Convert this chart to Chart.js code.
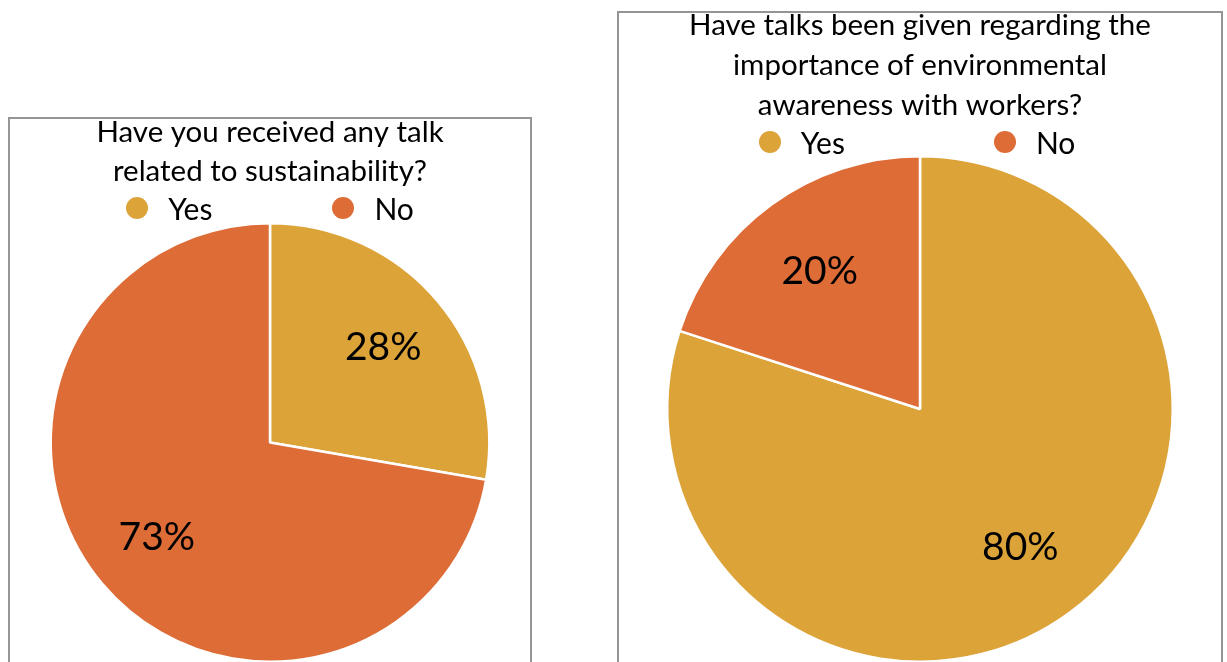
<!DOCTYPE html>
<html>
<head>
<meta charset="utf-8">
<script src="https://cdn.jsdelivr.net/npm/chart.js@4.4.1/dist/chart.umd.min.js"></script>
<style>
  html, body { margin: 0; padding: 0; background: #fff; overflow: hidden; width: 1227px; height: 662px; }
  .frame { position: absolute; box-sizing: border-box; border: 2px solid #959595; background: #fff; }
  .wrap { position: absolute; }
  .legend { position: absolute; display: flex; justify-content: center; font-family: Lato, "Open Sans", sans-serif; font-size: 30px; line-height: 36px; color: #000; white-space: nowrap; }
  .legend .item { display: flex; align-items: center; }
  .legend .dot { width: 22px; height: 22px; border-radius: 50%; margin-right: 20px; }
</style>
</head>
<body>
<div class="frame" style="left:8px; top:117px; width:524px; height:600px;"></div>
<div class="frame" style="left:617px; top:11px; width:606px; height:700px;"></div>

<div class="wrap" style="left:10px; top:100px;"><canvas id="c1" width="520" height="580"></canvas></div>
<div class="wrap" style="left:619px; top:0px;"><canvas id="c2" width="602" height="680"></canvas></div>

<div class="legend" id="lg1" style="left:10px; top:190px; width:520px;"></div>
<div class="legend" id="lg2" style="left:619px; top:124px; width:596px;"></div>

<script>
// Survey answers (percent of respondents)
const categories = ['Yes', 'No'];
const sustainabilityTalk = [28, 73];
const awarenessTalks = [80, 20];

const titleSustainability = ['Have you received any talk', 'related to sustainability?'];
const titleAwareness = ['Have talks been given regarding the', 'importance of environmental', 'awareness with workers?'];

const sliceColors = ['#DCA339', '#DD6C37'];
const FONT = 'Lato, "Open Sans", sans-serif';

// Writes each slice's percentage inside the slice, along its middle angle
const percentLabels = {
  id: 'percentLabels',
  afterDatasetsDraw(chart) {
    const { ctx } = chart;
    const meta = chart.getDatasetMeta(0);
    const values = chart.data.datasets[0].data;
    ctx.save();
    ctx.font = '39px ' + FONT;
    ctx.fillStyle = '#000';
    ctx.textAlign = 'center';
    ctx.textBaseline = 'middle';
    meta.data.forEach((arc, i) => {
      const p = arc.getProps(['x', 'y', 'startAngle', 'endAngle', 'outerRadius'], true);
      const mid = (p.startAngle + p.endAngle) / 2;
      const r = p.outerRadius * 0.675;
      ctx.fillText(values[i] + '%', p.x + Math.cos(mid) * r, p.y + Math.sin(mid) * r);
    });
    ctx.restore();
  }
};

function makePie(canvasId, legendId, values, title, titleLine, titlePad, legendGap) {
  const chart = new Chart(document.getElementById(canvasId), {
    type: 'pie',
    data: {
      labels: categories,
      datasets: [{
        data: values,
        backgroundColor: sliceColors,
        borderColor: '#ffffff',
        borderWidth: 2.5,
        hoverOffset: 0
      }]
    },
    options: {
      responsive: false,
      animation: false,
      layout: { padding: { bottom: 17 } },
      plugins: {
        legend: { display: false },
        tooltip: { enabled: false },
        title: {
          display: true,
          text: title,
          color: '#000',
          font: { family: FONT, size: 29.5, weight: 'normal', lineHeight: titleLine },
          padding: titlePad
        }
      }
    },
    plugins: [percentLabels]
  });

  // Legend built from the chart's own legend items
  const box = document.getElementById(legendId);
  const items = chart.options.plugins.legend.labels.generateLabels(chart);
  items.forEach((it, i) => {
    const el = document.createElement('div');
    el.className = 'item';
    if (i > 0) el.style.marginLeft = legendGap + 'px';
    const dot = document.createElement('span');
    dot.className = 'dot';
    dot.style.background = it.fillStyle;
    const txt = document.createElement('span');
    txt.textContent = it.text;
    el.appendChild(dot);
    el.appendChild(txt);
    box.appendChild(el);
  });
  return chart;
}

makePie('c1', 'lg1', sustainabilityTalk, titleSustainability, 1.32, { top: 13.5, bottom: 30.5 }, 120);
makePie('c2', 'lg2', awarenessTalks, titleAwareness, 1.356, { top: 5, bottom: 30 }, 149);
</script>
</body>
</html>
